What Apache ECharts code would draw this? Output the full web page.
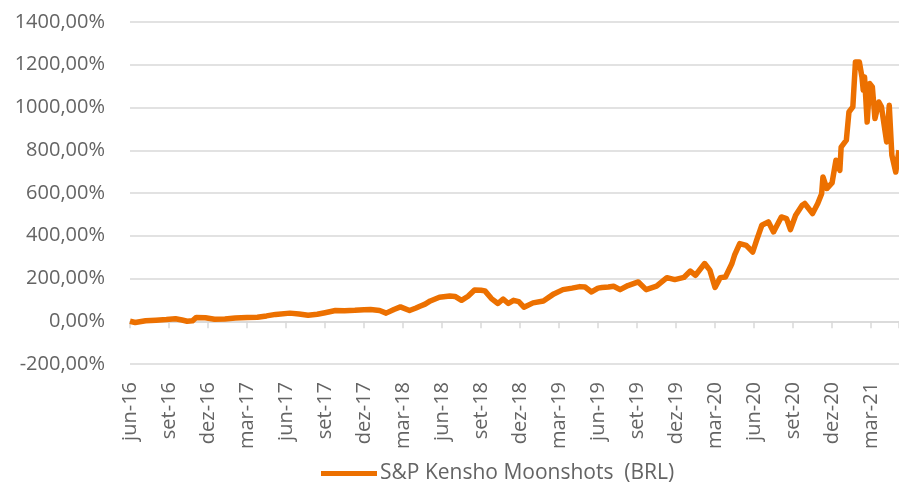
<!DOCTYPE html>
<html>
<head>
<meta charset="utf-8">
<script src="https://cdn.jsdelivr.net/npm/echarts@6/dist/echarts.min.js"></script>
<style>
  html, body { margin: 0; padding: 0; background: #fff; }
  #chart { width: 899px; height: 489px; }
</style>
</head>
<body>
<div id="chart"></div>
<script>
// rótulos do eixo x (um a cada 3 meses, a partir de jun-16)
var tickLabels = ['jun-16','set-16','dez-16','mar-17','jun-17','set-17','dez-17','mar-18','jun-18','set-18',
                  'dez-18','mar-19','jun-19','set-19','dez-19','mar-20','jun-20','set-20','dez-20','mar-21'];

// posição em meses desde jun-16
var months = [0, 0.4, 1.2, 2.0, 2.8, 3.5, 4.0, 4.4, 4.8, 5.1, 5.8, 6.5, 7.3, 8.1, 9.0, 9.8, 10.5, 11.2, 12.3, 13.0,
              13.7, 14.4, 15.0, 15.8, 16.5, 17.3, 18.0, 18.5, 19.2, 19.7, 20.3, 20.8, 21.5, 22.0, 22.3, 22.7, 23.1, 23.8,
              24.6, 25.0, 25.5, 26.0, 26.5, 27.0, 27.3, 27.8, 28.3, 28.7, 29.1, 29.5, 29.9, 30.3, 31.0, 31.8, 32.6, 33.3,
              34.0, 34.6, 35.0, 35.5, 36.0, 36.3, 36.8, 37.2, 37.7, 38.3, 39.1, 39.7, 40.1, 40.5, 41.3, 41.9, 42.6, 43.1,
              43.5, 44.2, 44.6, 45.0, 45.4, 45.8, 46.3, 46.5, 46.9, 47.4, 47.9, 48.2, 48.6, 49.1, 49.5, 50.1, 50.5, 50.8,
              51.2, 51.7, 51.9, 52.5, 52.9, 53.2, 53.3, 53.6, 54.0, 54.3, 54.6, 54.7, 55.1, 55.3, 55.6, 55.8, 56.1, 56.3,
              56.4, 56.5, 56.7, 56.9, 57.1, 57.3, 57.6, 57.8, 58.2, 58.4, 58.6, 58.9, 59.15];

// retorno acumulado (%)
var moonshots = [0, -6, 2, 5, 8, 12, 6, 0, 2, 18, 16, 9, 11, 15, 18, 19, 25, 32, 38, 34,
                 28, 33, 40, 50, 49, 51, 54, 55, 50, 38, 55, 67, 50, 62, 70, 80, 95, 112,
                 118, 116, 98, 117, 146, 145, 142, 106, 83, 104, 83, 98, 92, 66, 86, 95, 128, 148,
                 155, 162, 160, 137, 155, 158, 160, 164, 148, 167, 184, 148, 156, 164, 204, 195, 205, 235,
                 215, 270, 239, 158, 204, 207, 270, 309, 363, 355, 324, 379, 449, 465, 418, 488, 480, 429,
                 496, 543, 551, 504, 551, 597, 675, 621, 647, 753, 706, 815, 847, 979, 1003, 1213, 1213, 1143,
                 1081, 1143, 932, 1112, 1096, 948, 1026, 1003, 839, 1010, 777, 698, 800];

var chart = echarts.init(document.getElementById('chart'));

var fonte = '"Open Sans", sans-serif';
var cinza = '#646464';

var option = {
    animation: false,
    grid: { left: 130, right: 0, top: 22, bottom: 125 },
    legend: {
        bottom: 0,
        left: 316,
        icon: 'rect',
        itemWidth: 56,
        itemHeight: 5,
        itemGap: 4,
        textStyle: { color: cinza, fontSize: 21, fontFamily: fonte, padding: [0, 0, 0, -2] },
        data: ['S&P Kensho Moonshots  (BRL)']
    },
    xAxis: [
        {
            // eixo no zero, só linha e marcas
            type: 'value', min: 0, max: 59.15, interval: 3,
            axisLine: { onZero: true, lineStyle: { color: '#d9d9d9', width: 1.5 } },
            axisTick: { show: true, length: 7, lineStyle: { color: '#d9d9d9', width: 1.5 } },
            axisLabel: { show: false },
            splitLine: { show: false }
        },
        {
            // rótulos embaixo
            type: 'value', min: 0, max: 59.15, interval: 3, position: 'bottom',
            axisLine: { show: false, onZero: false },
            axisTick: { show: false },
            splitLine: { show: false },
            axisLabel: {
                rotate: 90, margin: 18, color: cinza, fontSize: 20, fontFamily: fonte,
                showMaxLabel: false,
                formatter: function (v) {
                    var i = Math.round(v / 3);
                    return Math.abs(i * 3 - v) < 1e-6 && tickLabels[i] ? tickLabels[i] : '';
                }
            }
        }
    ],
    yAxis: {
        type: 'value', min: -200, max: 1400, interval: 200,
        axisLine: { show: false },
        axisTick: { show: false },
        splitLine: { lineStyle: { color: '#d9d9d9', width: 1.5 } },
        axisLabel: {
            margin: 25, color: cinza, fontSize: 20, fontFamily: fonte,
            formatter: function (v) { return v.toFixed(2).replace('.', ',') + '%'; }
        }
    },
    series: [{
        name: 'S&P Kensho Moonshots  (BRL)',
        type: 'line',
        xAxisIndex: 0,
        showSymbol: false,
        color: '#EC7000',
        lineStyle: { width: 5.5, color: '#EC7000', join: 'round' },
        data: months.map(function (m, i) { return [m, moonshots[i]]; })
    }]
};

chart.setOption(option);
</script>
</body>
</html>
